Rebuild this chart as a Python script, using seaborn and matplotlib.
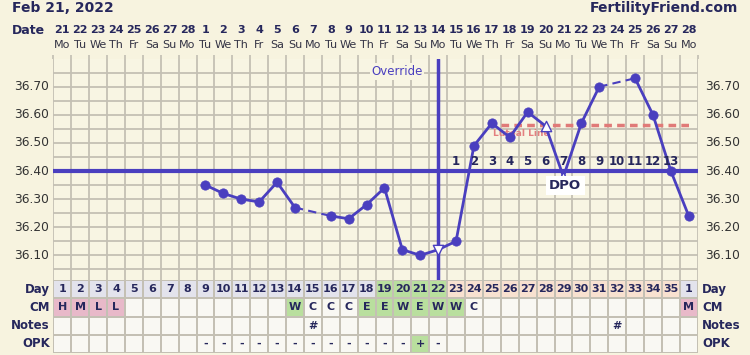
import numpy as np
import pandas as pd
import seaborn as sns
import matplotlib
matplotlib.use("Agg")
import matplotlib.pyplot as plt
from matplotlib.colors import ListedColormap
from matplotlib.transforms import blended_transform_factory

# ---------------- data ----------------
dates = ["21", "22", "23", "24", "25", "26", "27", "28"] + [str(d) for d in range(1, 29)]
weekdays = ["Mo", "Tu", "We", "Th", "Fr", "Sa", "Su"] * 5 + ["Mo"]
cycle_days = [str(d) for d in range(1, 36)] + ["1"]
temps = [None] * 8 + [36.35, 36.32, 36.30, 36.29, 36.36, 36.27, None, 36.24, 36.23,
                      36.28, 36.34, 36.12, 36.10, 36.12, 36.15, 36.49, 36.57, 36.52,
                      36.61, 36.56, 36.38, 36.57, 36.70, None, 36.73, 36.60, 36.40, 36.24]
markers = ["o"] * 21 + ["v"] + ["o"] * 5 + ["^", "^"] + ["o"] * 7
hollow = [False] * 21 + [True] + [False] * 5 + [True, True] + [False] * 7
cm = ["H", "M", "L", "L"] + [""] * 9 + ["W", "C", "C", "C", "E", "E", "W", "E", "W", "W", "C"] + [""] * 11 + ["M"]
cm_colour = ["pink"] * 4 + ["white"] * 9 + ["green"] + ["white"] * 3 + ["green"] * 6 + ["white"] * 12 + ["pink"]
day_colour = ["lav"] * 18 + ["green"] * 4 + ["peach"] * 13 + ["lav"]
notes = [""] * 14 + ["#"] + [""] * 16 + ["#"] + [""] * 4
opk = [""] * 8 + ["-"] * 12 + ["+", "-"] + [""] * 14
opk_colour = ["white"] * 20 + ["green"] + ["white"] * 15
dpo = [str(d) for d in range(1, 14)]
dpo_start_day = 23
coverline = 36.40
ovulation_day = 22
luteal_level = 36.565
temp_ticks = [36.10, 36.20, 36.30, 36.40, 36.50, 36.60, 36.70]
row_names = ["Day", "CM", "Notes", "OPK"]

# ---------------- style ----------------
BG = "#f7f3df"
PLOT_BG = "#f8f5e3"
GRID = "#c4c0b4"
LINE = "#4a3fbf"
NAVY = "#26275c"
W, H = 750, 355

sns.set_theme(style="white")
plt.rcParams["font.family"] = ["DejaVu Sans"]
fig = plt.figure(figsize=(W / 100, H / 100), dpi=100, facecolor=BG)

x0, x1 = 53.3, 697.7
ytop, ybot = 58.6, 280.6
ax = fig.add_axes([x0 / W, 1 - ybot / H, (x1 - x0) / W, (ybot - ytop) / H])
ax.set_facecolor(PLOT_BG)
ax.set_xlim(0, 36)
ax.set_ylim(36.01, 36.80)
for s in ax.spines.values():
    s.set_visible(False)
ax.set_xticks(range(37))
ax.set_yticks(np.round(np.arange(36.05, 36.80, 0.05), 2))
ax.set_xticklabels([])
ax.set_yticklabels([])
ax.tick_params(axis="y", length=0)
ax.tick_params(axis="x", length=3, direction="out", color=GRID, bottom=False, top=True)
ax.grid(True, color=GRID, lw=1.3)
ax.set_axisbelow(True)

df = pd.DataFrame({"x": np.arange(36) + 0.5, "temp": temps, "marker": markers, "hollow": hollow})

# solid segments
seg_id = df["temp"].isna().cumsum()
valid = df.dropna(subset=["temp"]).copy()
valid["seg"] = seg_id[valid.index]
for _, g in valid.groupby("seg"):
    if len(g) > 1:
        sns.lineplot(data=g, x="x", y="temp", color=LINE, lw=2, ax=ax, estimator=None, sort=False, zorder=4)
# dashed connectors across missing days
idx = valid.index.tolist()
for a, b in zip(idx[:-1], idx[1:]):
    if b - a > 1:
        sns.lineplot(data=valid.loc[[a, b]], x="x", y="temp", color=LINE, lw=1.5,
                     linestyle=(0, (4, 2.5)), ax=ax, estimator=None, sort=False, zorder=4)

filled = valid[~valid["hollow"]]
sns.scatterplot(data=filled, x="x", y="temp", color=LINE, s=45, edgecolor=LINE, linewidth=0.5, ax=ax, zorder=5, legend=False)
for m in ["v", "^"]:
    sub = valid[valid["hollow"] & (valid["marker"] == m)]
    if len(sub):
        sns.scatterplot(data=sub, x="x", y="temp", marker=m, s=55, facecolor="white", edgecolor=LINE,
                        linewidth=1.0, ax=ax, zorder=5, legend=False)
ax.set_xlabel("")
ax.set_ylabel("")

# coverline and ovulation line
ax.axhline(coverline, color=LINE, lw=3, zorder=3)
ax.axvline(ovulation_day - 0.5, color=LINE, lw=2.5, zorder=3)
ax.text(19.2, 36.755, "Override", color=LINE, fontsize=8.5, ha="center", va="center",
        bbox=dict(boxstyle="square,pad=0.15", fc=PLOT_BG, ec="none"), zorder=6)

# luteal line
ax.plot([25.0, 35.7], [luteal_level, luteal_level], color="#e07a78", lw=2.5, ls=(0, (2.2, 1.5)), zorder=3)
ax.text(26.15, 36.533, "Luteal Line", color="#e38080", fontsize=6.5, fontweight="bold", ha="center", va="center", zorder=3)

# DPO numbers
for i, lab in enumerate(dpo):
    ax.text(dpo_start_day - 1 + i + 0.5, 36.435, lab, color=NAVY, fontsize=8.5, fontweight="bold",
            ha="center", va="center", zorder=6)
ax.text(28.6, 36.348, "DPO", color=NAVY, fontsize=9.5, fontweight="bold", ha="center", va="center",
        bbox=dict(boxstyle="square,pad=0.25", fc="white", ec="none"), zorder=6)

# temperature labels on both sides
for t in temp_ticks:
    yfig = ax.transData.transform((0, t))[1]
    yf = fig.transFigure.inverted().transform((0, yfig))[1]
    fig.text(49 / W, yf, f"{t:.2f}", ha="right", va="center", fontsize=8.8, color="#333333")
    fig.text(705 / W, yf, f"{t:.2f}", ha="left", va="center", fontsize=8.8, color="#333333")

# header: title, dates, weekdays
fig.text(12 / W, 1 - 12 / H, "Feb 21, 2022", fontsize=10, fontweight="bold", color=NAVY, ha="left", va="baseline")
fig.text(738 / W, 1 - 12 / H, "FertilityFriend.com", fontsize=10, fontweight="bold", color=NAVY, ha="right", va="baseline")
fig.text(45 / W, 1 - 34 / H, "Date", fontsize=9, fontweight="bold", color=NAVY, ha="right", va="baseline")
tr = blended_transform_factory(ax.transData, fig.transFigure)
for i, (d, wd) in enumerate(zip(dates, weekdays)):
    ax.text(i + 0.5, 1 - 33 / H, d, transform=tr, fontsize=8, fontweight="bold", color=NAVY,
            ha="center", va="baseline", clip_on=False)
    ax.text(i + 0.5, 1 - 48 / H, wd, transform=tr, fontsize=8, color="#333344",
            ha="center", va="baseline", clip_on=False)

# ---------------- table (heatmap) ----------------
palette = {"white": "#f9f8f3", "lav": "#e3e3ec", "green": "#b9df9e", "peach": "#f8e1d0", "pink": "#e8b9c9"}
keys = list(palette.keys())
codes = np.array([
    [keys.index(c) for c in day_colour],
    [keys.index(c) for c in cm_colour],
    [keys.index("white")] * 36,
    [keys.index(c) for c in opk_colour],
])
annot = np.array([cycle_days, cm, notes, opk], dtype=object)
tax = fig.add_axes([x0 / W, 1 - 353 / H, (x1 - x0) / W, 73 / H])
sns.heatmap(codes, ax=tax, cmap=ListedColormap([palette[k] for k in keys]), vmin=-0.5, vmax=len(keys) - 0.5,
            annot=annot, fmt="", cbar=False, linewidths=1.3, linecolor=GRID,
            xticklabels=False, yticklabels=False,
            annot_kws=dict(fontsize=8, fontweight="bold", color=NAVY))
tax.set_xlabel("")
tax.set_ylabel("")
ttr = blended_transform_factory(fig.transFigure, tax.transData)
for r, name in enumerate(row_names):
    tax.text(50 / W, r + 0.5, name, transform=ttr, fontsize=8.5, fontweight="bold", color=NAVY,
             ha="right", va="center", clip_on=False)
    tax.text(702 / W, r + 0.5, name, transform=ttr, fontsize=8.5, fontweight="bold", color=NAVY,
             ha="left", va="center", clip_on=False)

fig.savefig("out.png", dpi=100, facecolor=BG)
